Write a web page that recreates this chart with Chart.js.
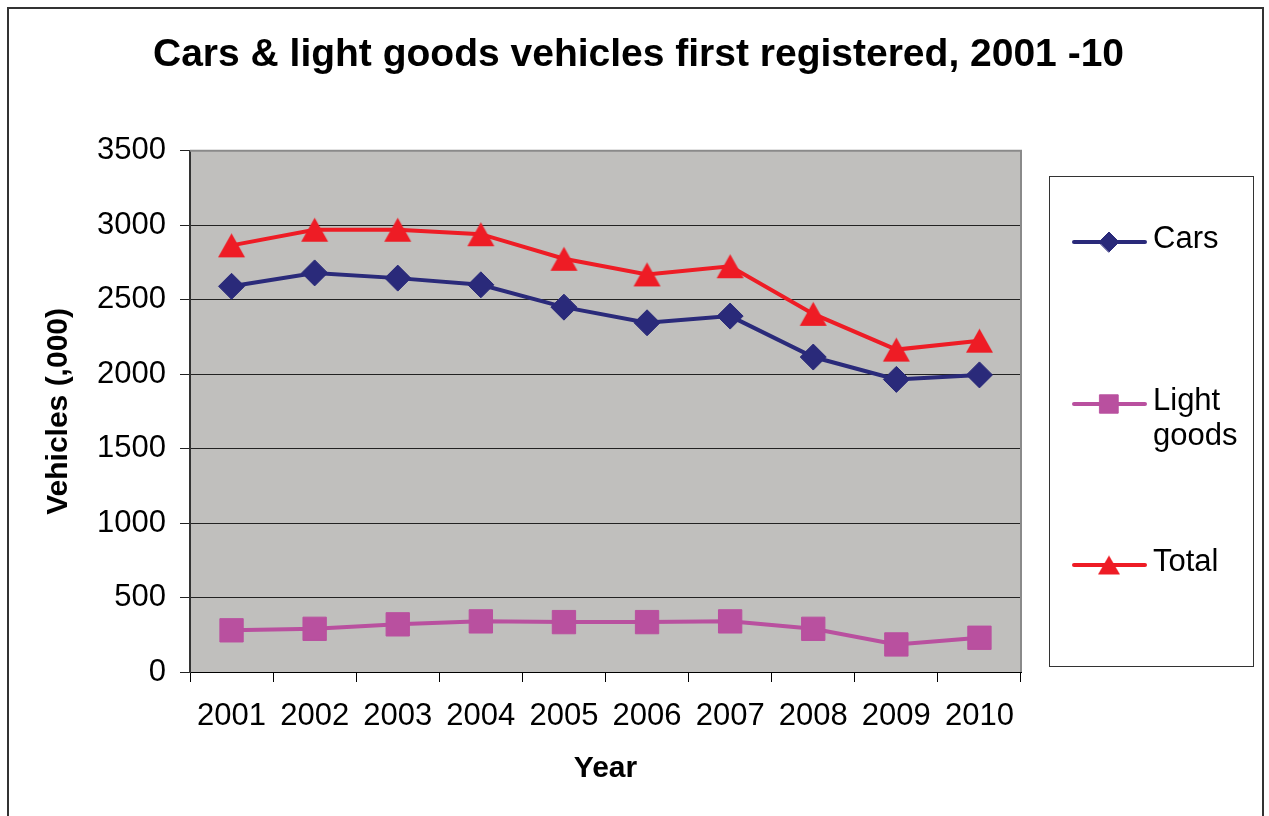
<!DOCTYPE html>
<html>
<head>
<meta charset="utf-8">
<title>Cars & light goods vehicles first registered, 2001 -10</title>
<script src="https://cdn.jsdelivr.net/npm/chart.js@4.4.1/dist/chart.umd.min.js"></script>
<style>
  html, body { margin: 0; padding: 0; background: #fff; }
  #wrap { width: 1269px; height: 816px; }
</style>
</head>
<body>
<div id="wrap"><canvas id="vehChart" width="1269" height="816"></canvas></div>
<script>
// data (thousands of vehicles)
const years = ['2001', '2002', '2003', '2004', '2005', '2006', '2007', '2008', '2009', '2010'];
const cars = [2590, 2680, 2645, 2600, 2450, 2345, 2390, 2115, 1965, 1995];
const lightGoods = [280, 290, 320, 340, 335, 335, 340, 290, 185, 230];
const total = [2865, 2970, 2970, 2940, 2775, 2670, 2725, 2405, 2165, 2225];
const seriesNames = ['Cars', 'Light goods', 'Total'];
const yTicks = [0, 500, 1000, 1500, 2000, 2500, 3000, 3500];

const chartTitle = 'Cars & light goods vehicles first registered, 2001 -10';
const fontFamily = '"Liberation Sans", Arial, sans-serif';

const navy = '#2A2A7A';
const pink = '#B9509F';
const red = '#EE1C25';

// Excel style triangle: box centred on the point
function triangleMarker(w, h, color) {
    const c = document.createElement('canvas');
    c.width = w + 2;
    c.height = h + 2;
    const g = c.getContext('2d');
    g.fillStyle = color;
    g.beginPath();
    g.moveTo(c.width / 2, 1);
    g.lineTo(c.width - 1, h + 1);
    g.lineTo(1, h + 1);
    g.closePath();
    g.fill();
    return c;
}
const triPlot = triangleMarker(27, 24, red);
const triLegend = triangleMarker(22, 19, red);

// grey plot area + frame
const plotBackground = {
    id: 'plotBackground',
    beforeDraw(chart) {
        const {ctx, chartArea: a} = chart;
        ctx.save();
        ctx.fillStyle = '#fff';
        ctx.fillRect(0, 0, chart.width, chart.height);
        ctx.fillStyle = '#C0BFBD';
        ctx.fillRect(a.left, a.top, a.right - a.left, a.bottom - a.top);
        ctx.restore();
    },
    beforeDatasetsDraw(chart) {
        const {ctx, chartArea: a} = chart;
        ctx.save();
        ctx.strokeStyle = '#8a8a8a';
        ctx.lineWidth = 2;
        ctx.beginPath();
        ctx.moveTo(a.left, a.top);
        ctx.lineTo(a.right, a.top);
        ctx.lineTo(a.right, a.bottom);
        ctx.stroke();
        ctx.restore();
    },
    afterDraw(chart) {
        const ctx = chart.ctx;
        ctx.save();
        ctx.strokeStyle = '#333';
        ctx.lineWidth = 2;
        ctx.strokeRect(8, 8, 1255, 830);
        ctx.restore();
    }
};

// boxed legend on the right, long names wrap
const legendRows = [242, 404, 565];
const boxLegend = {
    id: 'boxLegend',
    afterDraw(chart) {
        const ctx = chart.ctx;
        ctx.save();
        ctx.strokeStyle = '#333';
        ctx.lineWidth = 1;
        ctx.strokeRect(1049.5, 176.5, 204, 490);
        ctx.font = '31px ' + fontFamily;
        ctx.textBaseline = 'middle';
        chart.data.datasets.forEach((ds, i) => {
            const y = legendRows[i];
            ctx.strokeStyle = ds.borderColor;
            ctx.fillStyle = ds.borderColor;
            ctx.lineWidth = 4;
            ctx.lineCap = 'round';
            ctx.beginPath();
            ctx.moveTo(1074, y);
            ctx.lineTo(1145, y);
            ctx.stroke();
            ctx.lineWidth = 1;
            Chart.helpers.drawPoint(ctx, {
                pointStyle: ds.legendStyle,
                radius: ds.legendRadius,
                borderWidth: 1,
                rotation: 0
            }, 1109, y);

            // wrap words
            const words = ds.label.split(' ');
            const lines = [];
            let cur = '';
            words.forEach(w => {
                const t = cur ? cur + ' ' + w : w;
                if (cur && ctx.measureText(t).width > 96) {
                    lines.push(cur);
                    cur = w;
                } else {
                    cur = t;
                }
            });
            lines.push(cur);
            ctx.fillStyle = '#000';
            lines.forEach((ln, k) => ctx.fillText(ln, 1153, y - 3 + k * 35));
        });
        ctx.restore();
    }
};

const ctx = document.getElementById('vehChart').getContext('2d');
const vehChart = new Chart(ctx, {
    type: 'line',
    data: {
        labels: years,
        datasets: [{
            label: seriesNames[0],
            data: cars,
            borderColor: navy,
            backgroundColor: navy,
            borderWidth: 4,
            pointStyle: 'rectRot',
            pointRadius: 13,
            pointBorderWidth: 1,
            legendStyle: 'rectRot',
            legendRadius: 10
        }, {
            label: seriesNames[1],
            data: lightGoods,
            borderColor: pink,
            backgroundColor: pink,
            borderWidth: 4,
            pointStyle: 'rect',
            pointRadius: 16.5,
            pointBorderWidth: 1,
            legendStyle: 'rect',
            legendRadius: 13
        }, {
            label: seriesNames[2],
            data: total,
            borderColor: red,
            backgroundColor: red,
            borderWidth: 4,
            pointStyle: triPlot,
            pointRadius: 14,
            legendStyle: triLegend,
            legendRadius: 10
        }]
    },
    options: {
        responsive: false,
        animation: false,
        devicePixelRatio: 1,
        layout: { padding: { left: 8, right: 0, top: 0, bottom: 0 } },
        plugins: {
            legend: { display: false },
            tooltip: { enabled: false },
            title: {
                display: true,
                text: chartTitle,
                color: '#000',
                font: { family: fontFamily, size: 39, weight: 'bold' },
                padding: { top: 32, bottom: 72 }
            }
        },
        scales: {
            x: {
                offset: true,
                grid: {
                    drawOnChartArea: false,
                    drawTicks: true,
                    tickLength: 10,
                    offset: true,
                    color: '#000'
                },
                border: { display: true, color: '#000', width: 1 },
                ticks: {
                    color: '#000',
                    font: { family: fontFamily, size: 31 },
                    padding: 16,
                    autoSkip: false,
                    maxRotation: 0
                },
                title: {
                    display: true,
                    text: 'Year',
                    color: '#000',
                    font: { family: fontFamily, size: 30, weight: 'bold' },
                    padding: { top: 4, bottom: 29 }
                },
                afterFit(s) { s.height = 144; }
            },
            y: {
                min: 0,
                max: 3500,
                afterBuildTicks(s) { s.ticks = yTicks.map(v => ({ value: v })); },
                grid: {
                    color: c => (c.tick && c.tick.value === 3500) ? '#8a8a8a' : '#222',
                    tickColor: '#222',
                    tickLength: 10
                },
                border: { display: true, color: '#333', width: 2 },
                ticks: {
                    color: '#000',
                    font: { family: fontFamily, size: 31 },
                    padding: 14,
                    callback: v => String(v)
                },
                title: {
                    display: true,
                    text: 'Vehicles (,000)',
                    color: '#000',
                    font: { family: fontFamily, size: 30, weight: 'bold' },
                    padding: { top: 33, bottom: 0 }
                },
                afterFit(s) { s.width = 182; }
            },
            // empty scale on the right that keeps room for the legend box
            pad: {
                type: 'linear',
                position: 'right',
                grid: { display: false },
                ticks: { display: false },
                border: { display: false },
                afterFit(s) { s.width = 248; }
            }
        }
    },
    plugins: [plotBackground, boxLegend]
});
</script>
</body>
</html>
